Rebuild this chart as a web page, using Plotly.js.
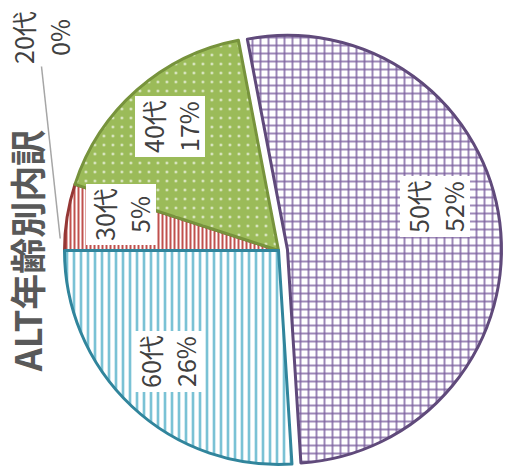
<!DOCTYPE html>
<html>
<head>
<meta charset="utf-8">
<script src="https://cdn.plot.ly/plotly-3.0.1.min.js"></script>
<style>
  html, body { margin: 0; padding: 0; background: #ffffff; overflow: hidden; width: 510px; height: 473px; }
  /* the chart is laid out upright, then turned a quarter-turn counter-clockwise */
  #chart { position: absolute; left: 18.5px; top: -18.5px; width: 473px; height: 510px;
           transform: rotate(-90deg); transform-origin: 50% 50%; }
</style>
</head>
<body>
<div id="chart"></div>
<script>
// ALT breakdown by age group (percent)
const ageGroups = ['20代', '30代', '40代', '50代', '60代'];
const shares = [0, 5, 17, 52, 26];
const chartTitle = 'ALT年齢別内訳';

// styling per slice
const pullOut      = [0, 0, 0, 0.042, 0];
const outlineColor = ['#7f7f7f', '#953735', '#77933c', '#604a7b', '#31859c'];
const outlineWidth = [0, 3, 3, 3, 3];
const patShape     = ['', '-', '.', '+', '-'];
const patFg        = ['#ffffff', '#c0504d', '#ffffff', '#7a5e9e', '#4bacc6'];
const patBg        = ['#ffffff', '#ffffff', '#9bbb59', '#ffffff', '#ffffff'];
const patSize      = [8, 4, 9, 8, 7];
const patSolidity  = [0.3, 0.5, 0.05, 0.33, 0.28];
// label placement: angular nudge and distance from the centre (fraction of radius)
const labelNudgeDeg = [0, 4, 0, -9, 2];
const labelRadius   = [1.02, 0.757, 0.77, 0.72, 0.735];

const W = 473, H = 510;
const domX = [0, 0.943];
const domY = [0.0157, 0.894];
const FONT = '"Noto Sans CJK JP", "Noto Sans", sans-serif';
const LABEL_SIZE = 25;
const LINE_GAP = 35;     // distance between the two text lines
const BOX_W = 60;

// geometry the pie trace will use (same rules as Plotly's pie layout)
const maxPull = Math.max(...pullOut);
const boxW = W * (domX[1] - domX[0]);
const boxH = H * (domY[1] - domY[0]);
const R = Math.min(boxW / 2, boxH / 2) / (1 + maxPull);
const CX = W * (domX[0] + domX[1]) / 2;
const CY = H * (1 - domY[0]) - boxH / 2;

const total = shares.reduce((a, b) => a + b, 0);
const toPaper = (u, v) => ({ x: u / W, y: 1 - v / H });

const annotations = [];
const shapes = [];

// two-line label; each line gets its own white box so the boxes join up
function addLabel(u, v, lines, boxed) {
  lines.forEach((ln, k) => {
    const p = toPaper(u, v + (k - (lines.length - 1) / 2) * LINE_GAP);
    annotations.push({
      x: p.x, y: p.y, xref: 'paper', yref: 'paper', xanchor: 'center', yanchor: 'middle',
      text: ln, showarrow: false,
      bgcolor: boxed ? '#ffffff' : 'rgba(0,0,0,0)', borderpad: 0,
      width: BOX_W, height: LINE_GAP - 1,
      font: { family: FONT, size: LABEL_SIZE, color: '#404040' }
    });
  });
}

let start = 0;
shares.forEach((s, i) => {
  const sweep = 360 * s / total;
  const mid = start + sweep / 2;
  start += sweep;
  const lines = [ageGroups[i], s + '%'];
  const m = mid * Math.PI / 180;
  if (s >= 2) {
    const a = (mid + labelNudgeDeg[i]) * Math.PI / 180;
    const off = pullOut[i] * R;
    const rho = labelRadius[i] * R;
    const u = CX + off * Math.sin(m) + rho * Math.sin(a);
    const v = CY - off * Math.cos(m) - rho * Math.cos(a);
    addLabel(u, v, lines, true);
  } else {
    // tiny slice: label set outside, joined to the pie by a leader line
    const lu = 436, lv = 40;
    addLabel(lu, lv, lines, false);
    const eu = CX + labelRadius[i] * R * Math.sin(m) + 12;
    const ev = CY - labelRadius[i] * R * Math.cos(m);
    const p0 = toPaper(lu - BOX_W / 2 + 1, lv + 1);
    const p1 = toPaper(eu, ev);
    shapes.push({
      type: 'line', xref: 'paper', yref: 'paper',
      x0: p0.x, y0: p0.y, x1: p1.x, y1: p1.y,
      line: { color: '#a6a6a6', width: 1.5 }
    });
  }
});

const trace = {
  type: 'pie',
  labels: ageGroups,
  values: shares,
  sort: false,
  direction: 'clockwise',
  rotation: 0,
  pull: pullOut,
  textinfo: 'none',
  textposition: 'none',
  hoverinfo: 'label+percent',
  domain: { x: domX, y: domY },
  marker: {
    colors: patBg,
    line: { color: outlineColor, width: outlineWidth },
    pattern: {
      shape: patShape, fgcolor: patFg, bgcolor: patBg,
      size: patSize, solidity: patSolidity, fillmode: 'replace'
    }
  }
};

const layout = {
  width: W, height: H,
  margin: { l: 0, r: 0, t: 0, b: 0 },
  paper_bgcolor: '#ffffff',
  showlegend: false,
  title: {
    text: chartTitle,
    x: CX / W, xanchor: 'center', xref: 'container',
    y: 1 - 29 / H, yanchor: 'middle', yref: 'container',
    font: { family: FONT, size: 36, color: '#595959', weight: 700 }
  },
  annotations: annotations,
  shapes: shapes
};

Plotly.newPlot('chart', [trace], layout, { displayModeBar: false, staticPlot: true });
</script>
</body>
</html>
